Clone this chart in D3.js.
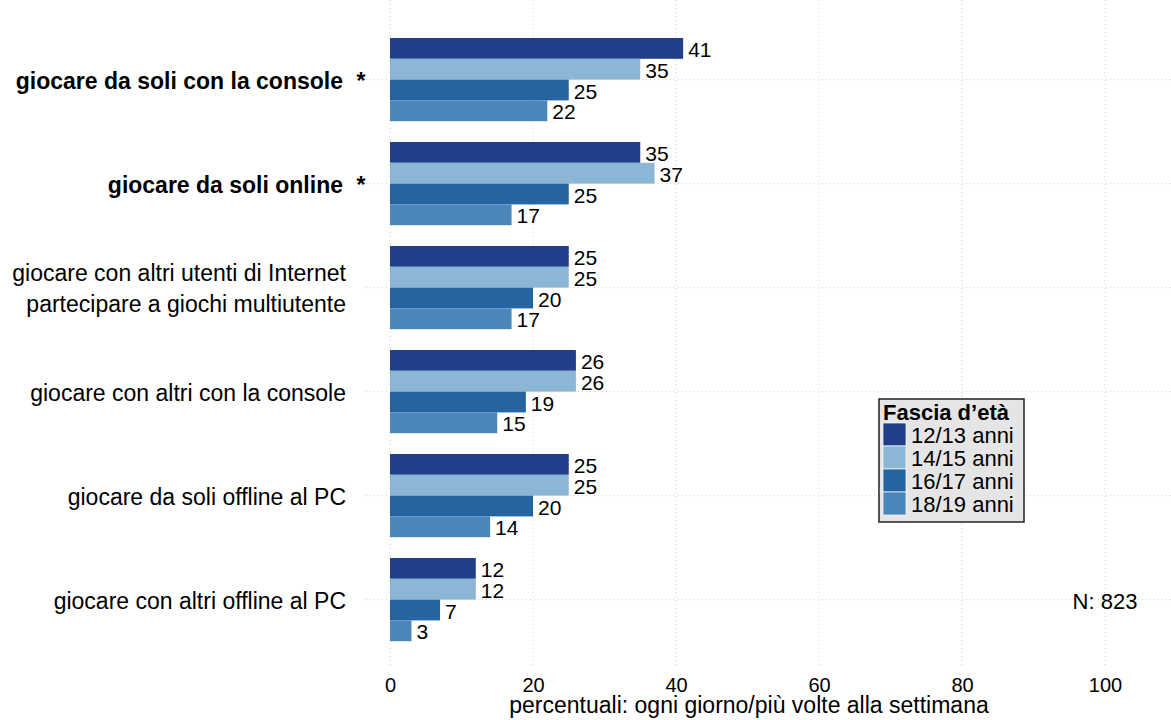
<!DOCTYPE html>
<html>
<head>
<meta charset="utf-8">
<script src="https://cdn.jsdelivr.net/npm/d3@7"></script>
<style>
  body { margin: 0; background: #fff; }
  text { font-family: "Liberation Sans", Arial, Helvetica, sans-serif; fill: #000; }
</style>
</head>
<body>
<div id="chart"></div>
<script>
// Data
var categories = [
  "giocare da soli con la console",
  "giocare da soli online",
  "giocare con altri utenti di Internet|partecipare a giochi multiutente",
  "giocare con altri con la console",
  "giocare da soli offline al PC",
  "giocare con altri offline al PC"
];
var starred = [true, true, false, false, false, false];
var series = ["12/13 anni", "14/15 anni", "16/17 anni", "18/19 anni"];
var colors = ["#213f88", "#8cb6d6", "#2464a0", "#4a86b9"];
var values = [
  [41, 35, 25, 22],
  [35, 37, 25, 17],
  [25, 25, 20, 17],
  [26, 26, 19, 15],
  [25, 25, 20, 14],
  [12, 12, 7, 3]
];
var xTicks = [0, 20, 40, 60, 80, 100];

var svgWidth = 1171;
var svgHeight = 720;

var svg = d3.select("#chart")
  .append("svg")
  .attr("width", svgWidth)
  .attr("height", svgHeight);

var xScale = d3.scaleLinear().domain([0, 100]).range([390, 1105]);
var yScale = d3.scaleBand()
  .domain(categories)
  .range([27.6, 651.6])
  .paddingInner(0.2)
  .paddingOuter(0.1);
var yInner = d3.scaleBand()
  .domain(series)
  .range([0, yScale.bandwidth()]);

// grid
var grid = svg.append("g");
grid.selectAll("line.v")
  .data(xTicks)
  .enter()
  .append("line")
  .attr("x1", d => xScale(d))
  .attr("x2", d => xScale(d))
  .attr("y1", 0)
  .attr("y2", 668)
  .attr("stroke", "#cfcfcf")
  .attr("stroke-width", 1)
  .attr("stroke-dasharray", "1,3");
grid.selectAll("line.h")
  .data(categories)
  .enter()
  .append("line")
  .attr("x1", 366)
  .attr("x2", svgWidth)
  .attr("y1", d => yScale(d) + yScale.bandwidth() / 2)
  .attr("y2", d => yScale(d) + yScale.bandwidth() / 2)
  .attr("stroke", "#cfcfcf")
  .attr("stroke-width", 1)
  .attr("stroke-dasharray", "1,3");

// bars
var groups = svg.selectAll("g.cat")
  .data(categories)
  .enter()
  .append("g")
  .attr("class", "cat")
  .attr("transform", d => `translate(0, ${yScale(d)})`);

groups.selectAll("rect")
  .data((d, i) => values[i].map((v, j) => ({ s: series[j], v: v, c: colors[j] })))
  .enter()
  .append("rect")
  .attr("x", xScale(0))
  .attr("y", d => yInner(d.s))
  .attr("width", d => xScale(d.v) - xScale(0))
  .attr("height", yInner.bandwidth())
  .attr("fill", d => d.c);

groups.selectAll("text.val")
  .data((d, i) => values[i].map((v, j) => ({ s: series[j], v: v })))
  .enter()
  .append("text")
  .attr("class", "val")
  .attr("x", d => xScale(d.v) + 5)
  .attr("y", d => yInner(d.s) + yInner.bandwidth() / 2 + 1)
  .attr("dominant-baseline", "central")
  .style("font-size", "21px")
  .text(d => d.v);

// category labels
categories.forEach(function(c, i) {
  var cy = yScale(c) + yScale.bandwidth() / 2;
  var lines = c.split("|");
  if (starred[i]) {
    svg.append("text")
      .attr("x", 343)
      .attr("y", cy + 1)
      .attr("text-anchor", "end")
      .attr("dominant-baseline", "central")
      .style("font-size", "23px")
      .style("font-weight", "bold")
      .text(lines[0]);
    svg.append("text")
      .attr("x", 361)
      .attr("y", cy + 1)
      .attr("text-anchor", "middle")
      .attr("dominant-baseline", "central")
      .style("font-size", "23px")
      .style("font-weight", "bold")
      .text("*");
  } else {
    var gap = 31;
    lines.forEach(function(l, k) {
      svg.append("text")
        .attr("x", 346)
        .attr("y", cy + 1 + (k - (lines.length - 1) / 2) * gap)
        .attr("text-anchor", "end")
        .attr("dominant-baseline", "central")
        .style("font-size", "23px")
        .text(l);
    });
  }
});

// x axis
var xAxis = svg.append("g")
  .attr("transform", "translate(0, 675)")
  .call(d3.axisBottom(xScale).tickValues(xTicks).tickSize(0).tickPadding(3));
xAxis.select(".domain").remove();
xAxis.selectAll("text")
  .style("font-size", "20px")
  .style("font-family", "'Liberation Sans', Arial, sans-serif")
  .attr("fill", "#000");

svg.append("text")
  .attr("x", 749)
  .attr("y", 705)
  .attr("text-anchor", "middle")
  .attr("dominant-baseline", "central")
  .style("font-size", "23px")
  .text("percentuali: ogni giorno/più volte alla settimana");

// legend
var legend = svg.append("g").attr("transform", "translate(879, 399)");
legend.append("rect")
  .attr("width", 145)
  .attr("height", 123)
  .attr("fill", "#e5e5e5")
  .attr("stroke", "#222")
  .attr("stroke-width", 1.5);
legend.append("text")
  .attr("x", 4)
  .attr("y", 13)
  .attr("dominant-baseline", "central")
  .style("font-size", "22px")
  .style("font-weight", "bold")
  .text("Fascia d’età");
series.forEach(function(s, j) {
  legend.append("rect")
    .attr("x", 4)
    .attr("y", 24 + j * 23)
    .attr("width", 23)
    .attr("height", 23)
    .attr("fill", colors[j])
    .attr("stroke", "#fff")
    .attr("stroke-width", 0.7);
  legend.append("text")
    .attr("x", 32)
    .attr("y", 24 + j * 23 + 12)
    .attr("dominant-baseline", "central")
    .style("font-size", "22px")
    .text(s);
});

// N annotation
svg.append("text")
  .attr("x", 1105)
  .attr("y", 601)
  .attr("text-anchor", "middle")
  .attr("dominant-baseline", "central")
  .style("font-size", "22px")
  .text("N: 823");
</script>
</body>
</html>
